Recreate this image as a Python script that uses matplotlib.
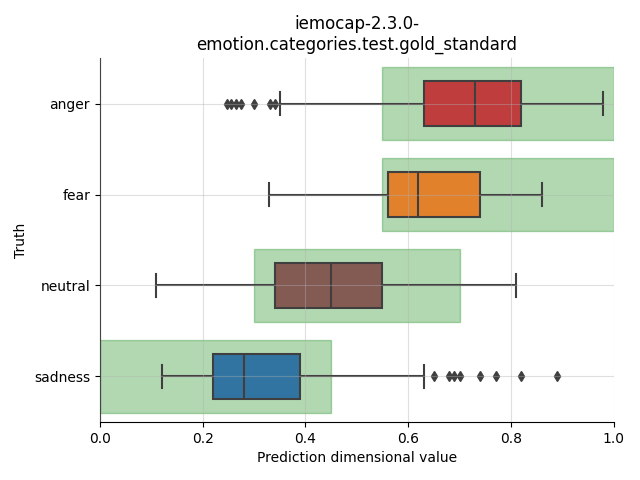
import matplotlib.pyplot as plt
from matplotlib.patches import Rectangle

# categories and box statistics
categorias = ['anger', 'fear', 'neutral', 'sadness']
whislo = [0.35, 0.33, 0.11, 0.12]
q1 = [0.63, 0.56, 0.34, 0.22]
mediana = [0.73, 0.62, 0.45, 0.28]
q3 = [0.82, 0.74, 0.55, 0.39]
whishi = [0.98, 0.86, 0.81, 0.63]
outliers = [
    [0.247, 0.255, 0.265, 0.275, 0.30, 0.331, 0.341],
    [],
    [],
    [0.65, 0.68, 0.69, 0.70, 0.74, 0.77, 0.82, 0.89],
]
colores = ['#c03d3e', '#e1812c', '#845b53', '#3274a1']

# expected range per category (green areas)
rango_min = [0.55, 0.55, 0.3, 0.0]
rango_max = [1.0, 1.0, 0.7, 0.45]

fig, ax = plt.subplots(figsize=(6.4, 4.8), dpi=100)

for i in range(len(categorias)):
    ax.add_patch(Rectangle((rango_min[i], i - 0.4), rango_max[i] - rango_min[i], 0.8,
                           facecolor='green', edgecolor='green', alpha=0.3, lw=1, zorder=1))

stats = []
for i, c in enumerate(categorias):
    stats.append(dict(label=c, whislo=whislo[i], q1=q1[i], med=mediana[i],
                      q3=q3[i], whishi=whishi[i], fliers=outliers[i]))

gris = '#3f3f3f'
bp = ax.bxp(stats, positions=range(len(categorias)), vert=False, widths=0.5,
            patch_artist=True, showcaps=True,
            boxprops=dict(edgecolor=gris, linewidth=1.5),
            medianprops=dict(color=gris, linewidth=1.5),
            whiskerprops=dict(color=gris, linewidth=1.5),
            capprops=dict(color=gris, linewidth=1.5),
            flierprops=dict(marker='d', markerfacecolor=gris, markeredgecolor=gris,
                            markersize=5))
for patch, col in zip(bp['boxes'], colores):
    patch.set_facecolor(col)

ax.set_xlim(0, 1)
ax.set_ylim(3.5, -0.5)
ax.set_yticks(range(len(categorias)))
ax.set_yticklabels(categorias)
ax.set_axisbelow(False)
ax.grid(True, alpha=0.4)
ax.spines['top'].set_visible(False)
ax.spines['right'].set_visible(False)

ax.set_title('iemocap-2.3.0-\nemotion.categories.test.gold_standard')
ax.set_xlabel('Prediction dimensional value')
ax.set_ylabel('Truth')

plt.subplots_adjust(left=0.156, right=0.959, top=0.879, bottom=0.121)
plt.savefig('out.png', dpi=100)
